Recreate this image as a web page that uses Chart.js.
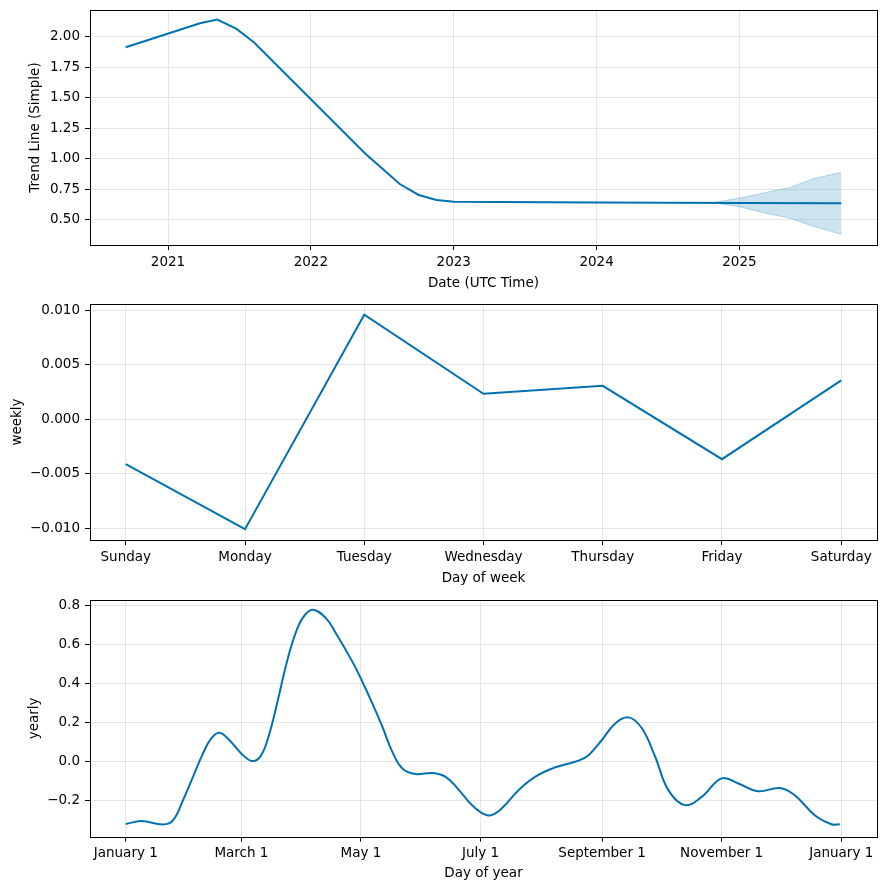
<!DOCTYPE html>
<html>
<head>
<meta charset="utf-8">
<script src="https://cdn.jsdelivr.net/npm/chart.js@4.4.1/dist/chart.umd.min.js"></script>
<style>
    html, body { margin: 0; padding: 0; background: #fff; }
    #wrap { position: relative; width: 886px; height: 889px; }
    #wrap canvas { position: absolute; left: 0; }
</style>
</head>
<body>
<div id="wrap">
    <canvas id="trendChart" width="886" height="295" style="top:0"></canvas>
    <canvas id="weeklyChart" width="886" height="295" style="top:295px"></canvas>
    <canvas id="yearlyChart" width="886" height="299" style="top:590px"></canvas>
</div>
<script>
// trend component (decimal years)
const trendYears = [2020.704, 2021.224, 2021.345, 2021.480, 2021.601, 2022.378, 2022.622, 2022.755, 2022.879, 2023.002, 2024.0, 2025.0, 2025.713];
const trendValues = [1.916, 2.112, 2.142, 2.066, 1.957, 1.047, 0.795, 0.705, 0.664, 0.650, 0.644, 0.640, 0.637];
const bandYears = [2024.811, 2025.0, 2025.17, 2025.35, 2025.51, 2025.713];
const bandUpper = [0.641, 0.680, 0.722, 0.765, 0.836, 0.891];
const bandLower = [0.641, 0.609, 0.560, 0.516, 0.451, 0.383];
const trendXTicks = [2021, 2022, 2023, 2024, 2025];
const trendYTicks = [0.50, 0.75, 1.00, 1.25, 1.50, 1.75, 2.00];

// weekly component
const dayNames = ['Sunday', 'Monday', 'Tuesday', 'Wednesday', 'Thursday', 'Friday', 'Saturday'];
const weeklyValues = [-0.00412, -0.01009, 0.00960, 0.00234, 0.00308, -0.00366, 0.00357];
const weeklyYTicks = [-0.010, -0.005, 0.000, 0.005, 0.010];

// yearly component (day of year)
const yearDays = [0, 8, 19, 24.1, 29.2, 34.3, 39.4, 43.6, 47.8, 52.9, 58.9, 64.5, 69.1, 73.3, 77.6, 81.8, 86.0, 90.2, 95.3,
    102.1, 107.2, 115.6, 120.7, 125.8, 130.9, 136, 141.1, 147.9, 156.4, 163.2, 170, 176.7, 184.4, 190.3, 200.5, 209, 219.2,
    231, 236.1, 242.9, 249.7, 256.5, 263.3, 270.1, 276.8, 285.3, 293.8, 304, 312.5, 322.6, 333.7, 341.3, 351.5, 360, 364.3];
const yearlyValues = [-0.320, -0.305, -0.322, -0.301, -0.198, -0.078, 0.042, 0.119, 0.148, 0.110, 0.042, 0.003, 0.033, 0.145, 0.316, 0.496, 0.641, 0.736, 0.779,
    0.736, 0.659, 0.513, 0.410, 0.299, 0.179, 0.050, -0.035, -0.064, -0.058, -0.078, -0.146, -0.224, -0.275, -0.253, -0.145, -0.077, -0.029,
    0.005, 0.033, 0.111, 0.196, 0.227, 0.171, 0.025, -0.146, -0.223, -0.181, -0.086, -0.112, -0.152, -0.135, -0.172, -0.275, -0.321, -0.321];
const monthTickDays = [0, 59, 120, 181, 243, 304, 365];
const monthTickLabels = ['January 1', 'March 1', 'May 1', 'July 1', 'September 1', 'November 1', 'January 1'];
const yearlyYTicks = [-0.2, 0.0, 0.2, 0.4, 0.6, 0.8];

const LINE = '#0072B2';
const GRID = 'rgba(128,128,128,0.2)';
const FONT = { family: 'DejaVu Sans', size: 13.5 };

Chart.defaults.color = '#000';
Chart.defaults.font.family = FONT.family;
Chart.defaults.font.size = FONT.size;

const fmt = (v, d) => v.toFixed(d).replace('-', '\u2212');

// matplotlib style box around the plot area
const boxPlugin = {
    id: 'box',
    afterDraw(chart) {
        const { ctx, chartArea: a } = chart;
        ctx.save();
        ctx.strokeStyle = '#000';
        ctx.lineWidth = 1;
        ctx.strokeRect(Math.round(a.left) + 0.5, Math.round(a.top) + 0.5,
            Math.round(a.right - a.left), Math.round(a.bottom - a.top));
        ctx.restore();
    }
};

// don't let edge tick labels push the plot area around
function noEdgePadding(s) {
    s.paddingTop = 0;
    s.paddingBottom = 0;
    s.paddingLeft = 0;
    s.paddingRight = 0;
}

function makeChart(id, datasets, opts) {
    return new Chart(document.getElementById(id), {
        type: 'line',
        data: { datasets },
        plugins: [boxPlugin],
        options: {
            responsive: false,
            animation: false,
            layout: { padding: { left: 0, right: 9, top: opts.padTop, bottom: 0 } },
            plugins: { legend: { display: false }, tooltip: { enabled: false } },
            elements: { point: { radius: 0 } },
            scales: {
                x: {
                    type: 'linear',
                    min: opts.xMin,
                    max: opts.xMax,
                    afterBuildTicks: s => { s.ticks = opts.xTicks.map(v => ({ value: v })); },
                    afterFit: s => { s.height = opts.xHeight; noEdgePadding(s); },
                    ticks: { padding: 4, maxRotation: 0, autoSkip: false, callback: opts.xLabel },
                    grid: { color: GRID, tickColor: '#000', tickLength: 5 },
                    border: { display: false },
                    title: { display: true, text: opts.xTitle, padding: { top: 0, bottom: opts.xTitlePad } }
                },
                y: {
                    min: opts.yMin,
                    max: opts.yMax,
                    afterBuildTicks: s => { s.ticks = opts.yTicks.map(v => ({ value: v })); },
                    afterFit: s => { s.width = 90; noEdgePadding(s); },
                    ticks: { padding: 5, autoSkip: false, callback: opts.yLabel },
                    grid: { color: GRID, tickColor: '#000', tickLength: 5 },
                    border: { display: false },
                    title: { display: true, text: opts.yTitle, padding: { top: opts.yTitlePad, bottom: 0 } }
                }
            }
        }
    });
}

document.addEventListener('DOMContentLoaded', () => {
    makeChart('trendChart', [
        {
            data: trendYears.map((x, i) => ({ x, y: trendValues[i] })),
            borderColor: LINE, borderWidth: 2, fill: false
        },
        {
            data: bandYears.map((x, i) => ({ x, y: bandUpper[i] })),
            borderColor: 'rgba(0,114,178,0.25)', borderWidth: 1,
            backgroundColor: 'rgba(0,114,178,0.2)', fill: '+1'
        },
        {
            data: bandYears.map((x, i) => ({ x, y: bandLower[i] })),
            borderColor: 'rgba(0,114,178,0.25)', borderWidth: 1, fill: false
        }
    ], {
        padTop: 10, xHeight: 50, xTitlePad: 3.5, yTitlePad: 27.5,
        xMin: 2020.454, xMax: 2025.963, xTicks: trendXTicks, xLabel: v => String(v),
        yMin: 0.295, yMax: 2.221, yTicks: trendYTicks, yLabel: v => fmt(v, 2),
        xTitle: 'Date (UTC Time)', yTitle: 'Trend Line (Simple)'
    });

    makeChart('weeklyChart', [
        {
            data: weeklyValues.map((y, i) => ({ x: i, y })),
            borderColor: LINE, borderWidth: 2, fill: false
        }
    ], {
        padTop: 9, xHeight: 50, xTitlePad: 3.5, yTitlePad: 9.5,
        xMin: -0.3, xMax: 6.3, xTicks: dayNames.map((d, i) => i), xLabel: v => dayNames[v],
        yMin: -0.01108, yMax: 0.01059, yTicks: weeklyYTicks, yLabel: v => fmt(v, 3),
        xTitle: 'Day of week', yTitle: 'weekly'
    });

    makeChart('yearlyChart', [
        {
            data: yearDays.map((x, i) => ({ x, y: yearlyValues[i] })),
            borderColor: LINE, borderWidth: 2, fill: false, tension: 0.4
        }
    ], {
        padTop: 10, xHeight: 52.3, xTitlePad: 7.5, yTitlePad: 26.5,
        xMin: -18.25, xMax: 383.25, xTicks: monthTickDays, xLabel: v => monthTickLabels[monthTickDays.indexOf(v)],
        yMin: -0.385, yMax: 0.829, yTicks: yearlyYTicks, yLabel: v => fmt(v, 1),
        xTitle: 'Day of year', yTitle: 'yearly'
    });
});
</script>
</body>
</html>
